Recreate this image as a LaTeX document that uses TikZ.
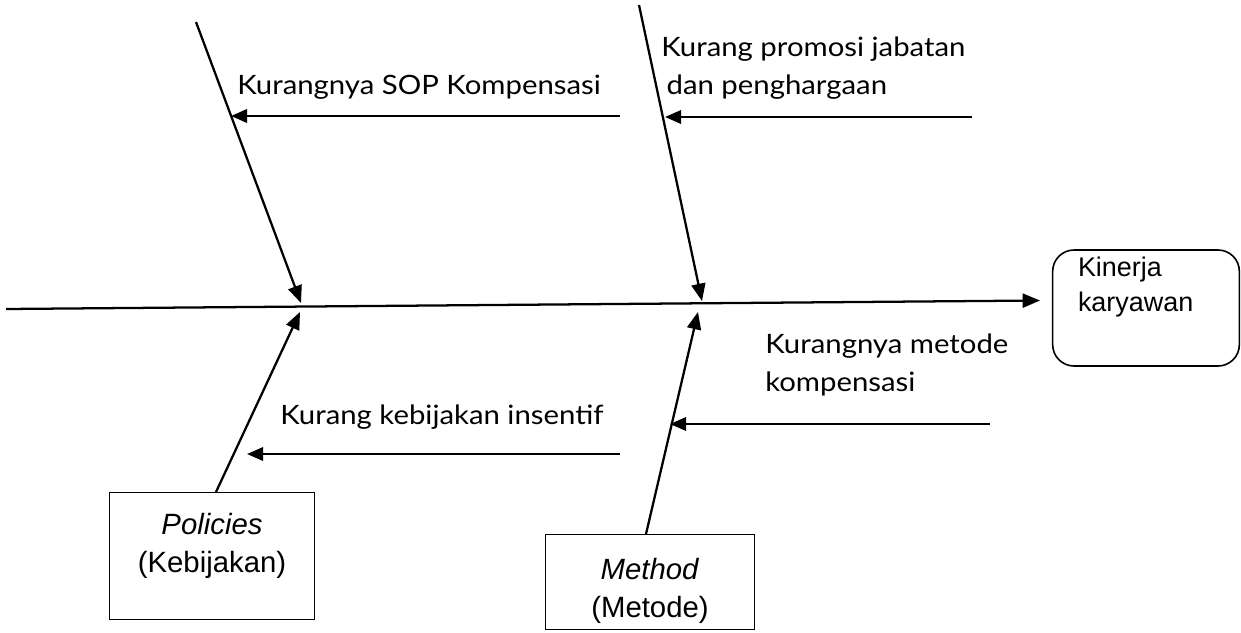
\documentclass[tikz,border=0pt]{standalone}
\usepackage{fontspec}
\setmainfont{Lato}
\newfontfamily\causefont[FakeStretch=1.1]{Lato}
\newfontfamily\arialfont{Liberation Sans}
\usetikzlibrary{arrows.meta,positioning}

\tikzset{
  bone/.style={line width=1.7pt,-{Triangle[length=13pt,width=10.5pt]}},
  cause/.style={line width=1.7pt,-{Triangle[length=12pt,width=10pt]}},
  causetext/.style={font=\causefont\fontsize{20}{28}\selectfont,inner sep=0pt,align=left},
  catbox/.style={draw,line width=1pt,inner sep=0pt,font=\arialfont\fontsize{22}{28.5}\selectfont},
  effectbox/.style={draw,line width=1.2pt,rounded corners=16pt,inner sep=0pt,font=\arialfont\fontsize{20.2}{26}\selectfont}
}

\begin{document}
\begin{tikzpicture}[x=0.75pt,y=-0.75pt]
  \useasboundingbox (0,0) rectangle (1241,632);
  % head and category boxes
  \node[effectbox] (effect) at (1146,308) {\parbox[c][87pt][t]{140pt}{\vspace{5.5pt}\hspace*{19pt}Kinerja\\\hspace*{19pt}karyawan}};
  \node[catbox] (policies) at (212,556) {\parbox[c][95pt][t]{154pt}{\centering\vspace{15.5pt}\textit{Policies}\\(Kebijakan)}};
  \node[catbox] (method) at (650,582) {\parbox[c][71pt][t]{157pt}{\centering\vspace{17.5pt}\textit{Method}\\(Metode)}};

  % spine
  \coordinate (tail) at (6,309);
  \coordinate (head) at (1040,300.5);
  \draw[bone] (tail) -- (head);

  % bones
  \coordinate (topA) at (196,22);
  \coordinate (topB) at (639,5);
  \coordinate (jointA) at (301,303);
  \coordinate (jointAlow) at (300,312);
  \coordinate (jointB) at (702,301);
  \coordinate (jointBlow) at (698,312);
  \draw[bone] (topA) -- (jointA);
  \draw[bone] (policies.north -| 216,0) -- (jointAlow);
  \draw[bone] (topB) -- (jointB);
  \draw[bone] (method.north -| 646,0) -- (jointBlow);

  % causes
  \coordinate (sopA) at (620,116);   \coordinate (sopB) at (231,116);
  \coordinate (promA) at (972,117);  \coordinate (promB) at (665,117);
  \coordinate (insA) at (620,454);   \coordinate (insB) at (247,454);
  \coordinate (metA) at (990,424);   \coordinate (metB) at (670,424);
  \draw[cause] (sopA) -- (sopB);
  \draw[cause] (promA) -- (promB);
  \draw[cause] (insA) -- (insB);
  \draw[cause] (metA) -- (metB);

  \node[causetext,anchor=west] (sop) at (237,87) {Kurangnya SOP Kompensasi};
  \node[causetext,anchor=north west] (prom) at (661,37) {Kurang promosi jabatan\\\hspace*{4pt}dan penghargaan};
  \node[causetext,anchor=west] (ins) at (280,417) {Kurang kebijakan insentif};
  \node[causetext,anchor=north west] (met) at (765,334) {Kurangnya metode\\kompensasi};
\end{tikzpicture}
\end{document}
